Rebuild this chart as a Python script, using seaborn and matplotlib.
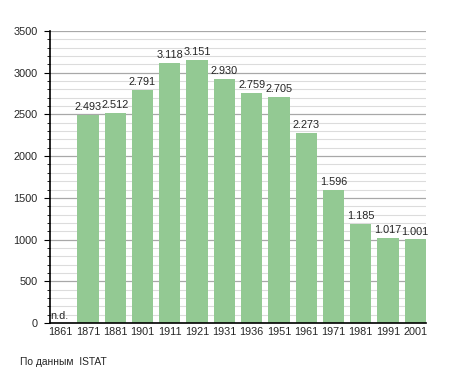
import pandas as pd
import matplotlib.pyplot as plt
import seaborn as sns
from matplotlib.ticker import MultipleLocator

# Population by census year (1861 not available)
years = ['1861', '1871', '1881', '1901', '1911', '1921', '1931',
         '1936', '1951', '1961', '1971', '1981', '1991', '2001']
population = [0, 2493, 2512, 2791, 3118, 3151, 2930,
              2759, 2705, 2273, 1596, 1185, 1017, 1001]
labels = ['n.d.', '2.493', '2.512', '2.791', '3.118', '3.151', '2.930',
          '2.759', '2.705', '2.273', '1.596', '1.185', '1.017', '1.001']

df = pd.DataFrame({'year': years, 'pop': population, 'label': labels})

sns.set_style('white')
plt.rcParams['font.family'] = ['Liberation Sans', 'DejaVu Sans']

fig = plt.figure(figsize=(4.55, 3.73), dpi=100)
ax = fig.add_axes([0.110, 0.134, 0.826, 0.783])

sns.barplot(data=df, x='year', y='pop', color='#93c993', saturation=1,
            width=0.78, linewidth=0, edgecolor='none', ax=ax, zorder=3)

ax.set_xlim(-0.39, len(years) - 1 + 0.39)
ax.set_ylim(0, 3500)
ax.yaxis.set_major_locator(MultipleLocator(500))
ax.yaxis.set_minor_locator(MultipleLocator(100))
ax.grid(which='major', axis='y', color='#a8a8a8', linewidth=0.9, zorder=0)
ax.grid(which='minor', axis='y', color='#dcdcdc', linewidth=0.8, zorder=0)
ax.grid(axis='x', visible=False)

for s in ['top', 'right']:
    ax.spines[s].set_visible(False)
for s in ['left', 'bottom']:
    ax.spines[s].set_color('black')
    ax.spines[s].set_linewidth(1.2)
    ax.spines[s].set_zorder(4)

ax.tick_params(axis='y', which='major', length=4, width=0.8, color='black',
               labelsize=7.8, pad=5, left=True)
ax.tick_params(axis='y', which='minor', length=2.5, width=0.6, color='black',
               left=True)
ax.tick_params(axis='x', length=0, labelsize=7.8, pad=3)

ax.set_xlabel('')
ax.set_ylabel('')

for i, (v, t) in enumerate(zip(df['pop'], df['label'])):
    if v == 0:
        ax.text(i - 0.37, 30, t, ha='left', va='bottom', fontsize=7.8, zorder=5)
    else:
        ax.text(i, v + 35, t, ha='center', va='bottom', fontsize=7.8, zorder=5)

fig.text(20 / 455, 1 - 362 / 373, 'По данным  ISTAT', ha='left',
         va='center', fontsize=7.4)

fig.savefig('out.png', dpi=100)
